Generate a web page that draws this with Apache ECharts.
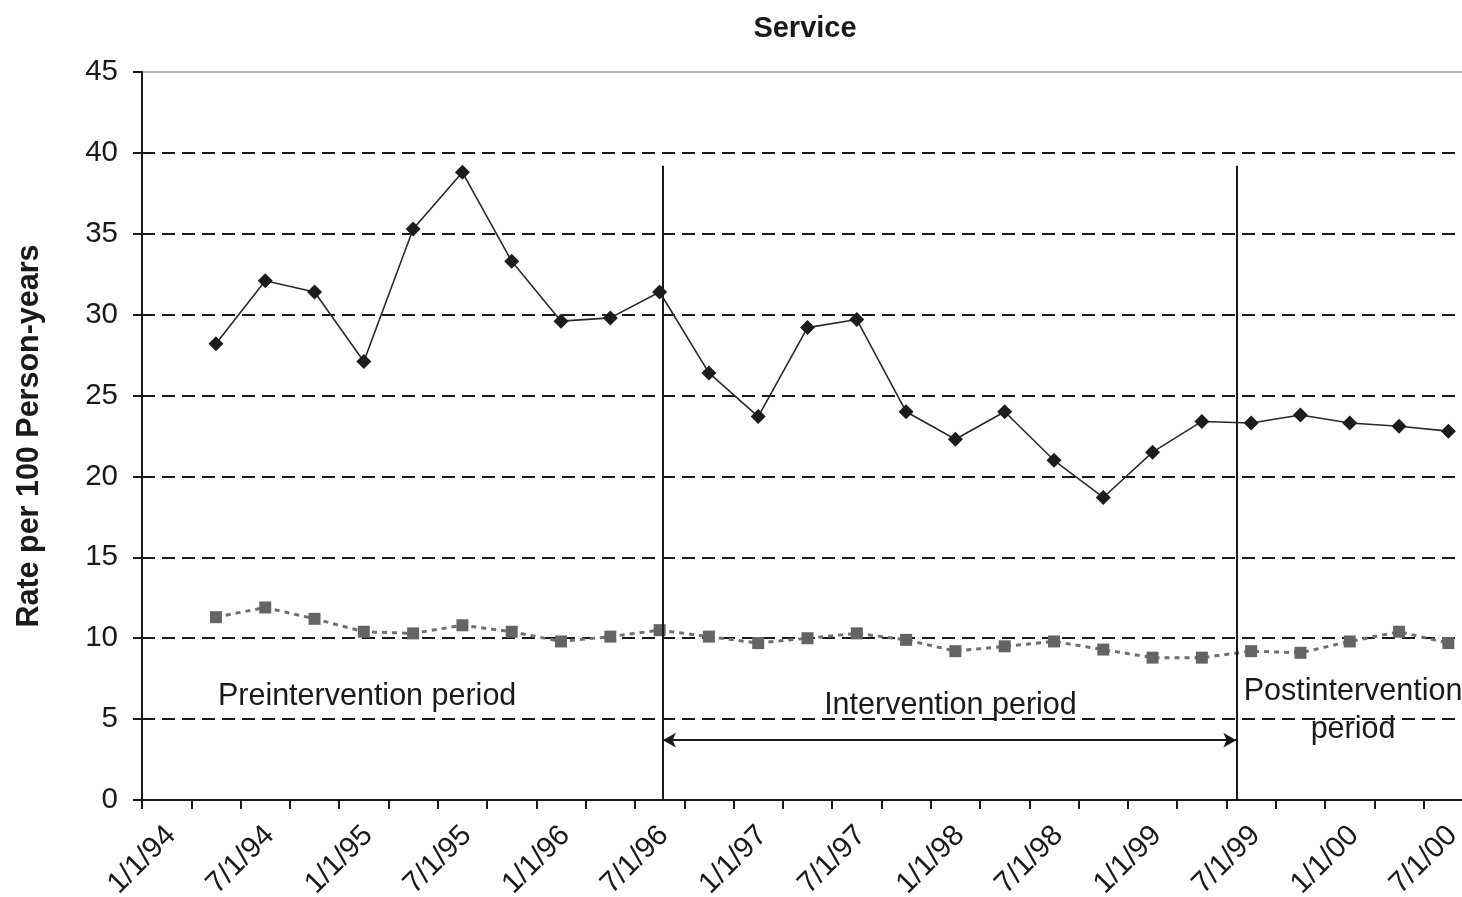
<!DOCTYPE html>
<html>
<head>
<meta charset="utf-8">
<title>Service</title>
<script src="https://cdn.jsdelivr.net/npm/echarts@6/dist/echarts.min.js"></script>
<style>
  html, body { margin: 0; padding: 0; background: #ffffff; }
  #chart { width: 1462px; height: 897px; }
</style>
</head>
<body>
<div id="chart"></div>
<script>
// Quarterly observations (first day of each quarter)
const quarters = [
  '4/1/94', '7/1/94', '10/1/94',
  '1/1/95', '4/1/95', '7/1/95', '10/1/95',
  '1/1/96', '4/1/96', '7/1/96', '10/1/96',
  '1/1/97', '4/1/97', '7/1/97', '10/1/97',
  '1/1/98', '4/1/98', '7/1/98', '10/1/98',
  '1/1/99', '4/1/99', '7/1/99', '10/1/99',
  '1/1/00', '4/1/00', '7/1/00'
];

// Rate per 100 person-years, service members
const serviceRates = [
  28.2, 32.1, 31.4, 27.1, 35.3, 38.8, 33.3, 29.6, 29.8, 31.4,
  26.4, 23.7, 29.2, 29.7, 24.0, 22.3, 24.0, 21.0, 18.7, 21.5,
  23.4, 23.3, 23.8, 23.3, 23.1, 22.8
];

// Rate per 100 person-years, comparison group
const comparisonRates = [
  11.3, 11.9, 11.2, 10.4, 10.3, 10.8, 10.4, 9.8, 10.1, 10.5,
  10.1, 9.7, 10.0, 10.3, 9.9, 9.2, 9.5, 9.8, 9.3, 8.8,
  8.8, 9.2, 9.1, 9.8, 10.4, 9.7
];

// Date labels shown every six months
const tickLabels = [
  '1/1/94', '7/1/94', '1/1/95', '7/1/95', '1/1/96', '7/1/96', '1/1/97',
  '7/1/97', '1/1/98', '7/1/98', '1/1/99', '7/1/99', '1/1/00', '7/1/00'
];

const periodLabels = ['Preintervention period', 'Intervention period', 'Postintervention\nperiod'];

// The x axis counts months from 1/1/94
function monthsFromStart(dateStr) {
  const parts = dateStr.split('/').map(Number);
  const year = parts[2] < 50 ? 2000 + parts[2] : 1900 + parts[2];
  return (year - 1994) * 12 + (parts[0] - 1);
}
// each quarterly point sits in the middle of its quarter
const quarterX = quarters.map(q => monthsFromStart(q) + 1.5);

// Boundaries of the intervention period, in months from 1/1/94
const interventionStart = 31.7;
const interventionEnd = 66.6;

const FONT = '"Liberation Sans", Arial, Helvetica, sans-serif';
const INK = '#1a1a1a';

const chart = echarts.init(document.getElementById('chart'), null, { renderer: 'canvas' });

chart.setOption({
  animation: false,
  backgroundColor: '#ffffff',
  textStyle: { fontFamily: FONT, color: INK },
  title: {
    text: 'Service',
    left: 800,
    top: 9,
    textAlign: 'center',
    textStyle: { fontFamily: FONT, fontSize: 29, fontWeight: 'bold', color: INK }
  },
  grid: {
    left: 142,
    right: -11,
    top: 72,
    bottom: 97,
    containLabel: false,
    outerBoundsMode: 'none',
    show: true,
    borderColor: '#9a9a9a',
    borderWidth: 1.5,
    backgroundColor: 'transparent'
  },
  xAxis: {
    type: 'value',
    min: 0,
    max: 81,
    interval: 3,
    axisLine: { show: true, onZero: false, lineStyle: { color: INK, width: 2 } },
    axisTick: { show: true, inside: false, length: 9, lineStyle: { color: INK, width: 2 } },
    splitLine: { show: false },
    axisLabel: {
      show: true,
      rotate: 45,
      align: 'center',
      verticalAlign: 'middle',
      margin: 60,
      fontSize: 29.5,
      fontFamily: FONT,
      color: INK,
      showMinLabel: true,
      showMaxLabel: true,
      hideOverlap: false,
      formatter: function (v) {
        if (v % 6 !== 0) return '';
        const label = tickLabels[v / 6];
        return label === undefined ? '' : label;
      }
    }
  },
  yAxis: {
    type: 'value',
    min: 0,
    max: 45,
    interval: 5,
    name: 'Rate per 100 Person-years',
    nameLocation: 'middle',
    nameGap: 97,
    nameMoveOverlap: false,
    nameTextStyle: { fontFamily: FONT, fontSize: 30.5, fontWeight: 'bold', color: INK },
    axisLine: { show: true, lineStyle: { color: INK, width: 2 } },
    axisTick: { show: true, inside: false, length: 9, lineStyle: { color: INK, width: 2 } },
    axisLabel: { margin: 24, fontSize: 29.5, fontFamily: FONT, color: INK },
    splitLine: {
      show: true,
      showMinLine: false,
      showMaxLine: false,
      lineStyle: { color: INK, width: 2, type: [13, 7] }
    }
  },
  series: [
    {
      name: 'Service',
      type: 'line',
      data: quarterX.map((x, i) => [x, serviceRates[i]]),
      symbol: 'diamond',
      symbolSize: 15,
      showAllSymbol: true,
      itemStyle: { color: '#1c1c1c' },
      lineStyle: { color: '#2a2a2a', width: 1.6 },
      z: 5,
      markLine: {
        silent: true,
        animation: false,
        label: { show: false },
        symbol: ['none', 'none'],
        lineStyle: { color: INK, width: 2, type: 'solid' },
        data: [
          [{ coord: [interventionStart, 0] }, { coord: [interventionStart, 39.2] }],
          [{ coord: [interventionEnd, 0] }, { coord: [interventionEnd, 39.2] }],
          [
            { coord: [interventionStart, 3.7], symbol: 'arrow', symbolSize: [11, 13] },
            { coord: [interventionEnd, 3.7], symbol: 'arrow', symbolSize: [11, 13] }
          ]
        ]
      },
      markPoint: {
        silent: true,
        animation: false,
        symbol: 'circle',
        symbolSize: 0,
        itemStyle: { color: 'transparent' },
        label: {
          show: true,
          position: 'inside',
          fontFamily: FONT,
          fontSize: 30.5,
          color: INK,
          lineHeight: 38,
          align: 'center',
          verticalAlign: 'middle',
          formatter: p => p.name
        },
        data: [
          { name: periodLabels[0], coord: [13.7, 6.4] },
          { name: periodLabels[1], coord: [49.2, 5.85] },
          { name: periodLabels[2], coord: [73.7, 5.5] }
        ]
      }
    },
    {
      name: 'Comparison',
      type: 'line',
      data: quarterX.map((x, i) => [x, comparisonRates[i]]),
      symbol: 'rect',
      symbolSize: 12,
      showAllSymbol: true,
      itemStyle: { color: '#646464' },
      lineStyle: { color: '#707070', width: 3, type: [5, 5] },
      z: 4
    }
  ]
});
</script>
</body>
</html>
